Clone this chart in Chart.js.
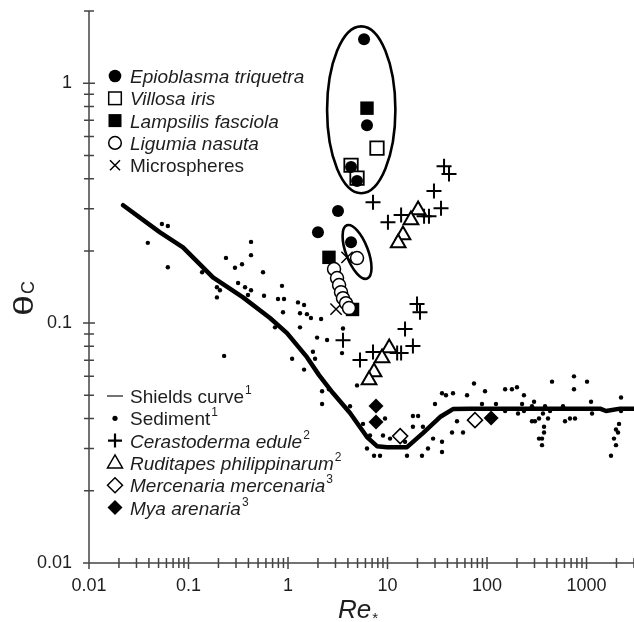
<!DOCTYPE html>
<html>
<head>
<meta charset="utf-8">
<script src="https://cdn.jsdelivr.net/npm/chart.js@4.4.1/dist/chart.umd.min.js"></script>
<style>
  body { margin: 0; background: #fff; }
  #chart { display: block; }
</style>
</head>
<body>
<canvas id="chart" width="634" height="622"></canvas>
<script>
const FONT = '"Liberation Sans", Arial, sans-serif';
const INK = "#1e1e1e";

// Shields curve (Re*, theta_c)
const shieldsRe = [0.022, 0.0517, 0.088, 0.176, 0.353, 0.659, 0.977, 1.55, 2.05, 2.83, 4.2, 6.22, 7.84, 9.88, 15.7, 22.7, 33.7, 45.5, 67.5, 1368, 1571, 2172, 3000];
const shieldsTheta = [0.31, 0.239, 0.207, 0.155, 0.128, 0.105, 0.0908, 0.0721, 0.0607, 0.0511, 0.0422, 0.0335, 0.0307, 0.0304, 0.0304, 0.0348, 0.0406, 0.0438, 0.0440, 0.0440, 0.0430, 0.0440, 0.0440];

// sediment points
const sedimentRe = [0.039, 0.054, 0.062, 0.062, 0.137, 0.238, 0.293, 0.345, 0.425, 0.425,
  0.561, 0.315, 0.37, 0.425, 0.396, 0.193, 0.207, 0.193, 0.574, 0.87,
  0.793, 0.912, 0.891, 0.74, 1.26, 1.45, 1.32, 1.55, 1.7, 2.15,
  1.32, 1.96, 2.47, 3.57, 3.49, 1.78, 1.1, 1.45, 0.228, 2.2,
  2.2, 1.87, 4.94, 2.58, 4.2, 5.67, 6.67, 9.01, 7.32, 8.41,
  9.44, 10.6, 6.22, 18, 20.3, 18, 22.7, 15, 15.7, 22.2,
  25.5, 28.7, 35.3, 35.3, 44.5, 30, 35.3, 38.7, 45.5, 63,
  74, 95.5, 57.4, 49.9, 89, 123, 152, 178, 200, 235,
  225, 297, 152, 205, 235, 283, 283, 303, 333, 365,
  383, 410, 374, 374, 357, 333, 357, 450, 430, 580,
  608, 682, 766, 748, 748, 1012, 1110, 1136, 2222, 2222,
  2122, 2073, 1977, 1888, 1977, 1762];
const sedimentTheta = [0.216, 0.259, 0.254, 0.171, 0.163, 0.187, 0.17, 0.176, 0.218, 0.192,
  0.163, 0.147, 0.141, 0.137, 0.131, 0.141, 0.137, 0.128, 0.13, 0.143,
  0.126, 0.126, 0.111, 0.096, 0.122, 0.119, 0.11, 0.109, 0.105, 0.104,
  0.096, 0.087, 0.085, 0.095, 0.075, 0.076, 0.071, 0.064, 0.073, 0.052,
  0.046, 0.071, 0.055, 0.053, 0.045, 0.038, 0.034, 0.034, 0.028, 0.028,
  0.040, 0.033, 0.030, 0.041, 0.041, 0.037, 0.037, 0.032, 0.028, 0.028,
  0.030, 0.033, 0.032, 0.029, 0.035, 0.046, 0.051, 0.050, 0.051, 0.050,
  0.056, 0.052, 0.035, 0.039, 0.046, 0.046, 0.053, 0.053, 0.054, 0.050,
  0.046, 0.047, 0.043, 0.042, 0.043, 0.045, 0.039, 0.039, 0.040, 0.042,
  0.045, 0.040, 0.037, 0.035, 0.033, 0.033, 0.031, 0.057, 0.043, 0.045,
  0.039, 0.040, 0.040, 0.060, 0.053, 0.057, 0.047, 0.042, 0.049, 0.043,
  0.038, 0.035, 0.036, 0.033, 0.031, 0.028];

// mussels and microspheres
const epioblasmaRe = [5.81, 6.22, 4.3, 4.94, 3.18, 2.0, 4.3];
const epioblasmaTheta = [1.525, 0.668, 0.447, 0.391, 0.293, 0.239, 0.2175];
const villosaRe = [7.84, 4.3, 4.94];
const villosaTheta = [0.536, 0.455, 0.402];
const lampsilisRe = [6.22, 2.58, 4.45];
const lampsilisTheta = [0.787, 0.188, 0.114];
const ligumiaRe = [4.94, 2.9, 3.11, 3.26, 3.41, 3.57, 3.83, 4.1];
const ligumiaTheta = [0.1866, 0.168, 0.154, 0.144, 0.1346, 0.127, 0.121, 0.1155];
const microRe = [3.92, 3.04];
const microTheta = [0.188, 0.1144];

// marine bivalves
const cerastodermaRe = [37.0, 41.5, 29.3, 34.5, 10.1, 7.15, 13.7, 23.3, 26.1, 19.8, 21.2, 15.0, 18.0, 3.57, 5.29, 7.15, 12.5, 13.7];
const cerastodermaTheta = [0.451, 0.418, 0.355, 0.301, 0.2635, 0.319, 0.282, 0.279, 0.279, 0.12, 0.111, 0.0944, 0.0802, 0.0849, 0.0701, 0.0757, 0.075, 0.075];
const ruditapesRe = [20.3, 17.2, 14.3, 12.8, 10.4, 8.81, 7.32, 6.52];
const ruditapesTheta = [0.296, 0.269, 0.233, 0.2155, 0.0787, 0.0715, 0.0625, 0.0579];
const mercenariaRe = [13.4, 75.7];
const mercenariaTheta = [0.0338, 0.0394];
const myaRe = [7.66, 7.66, 110];
const myaTheta = [0.0451, 0.0387, 0.0402];

// axes
const xTickLabels = [0.01, 0.1, 1, 10, 100, 1000];
const yTickLabels = [0.01, 0.1, 1];

// legend texts: [marker, text, italic, superscript]
const legendTop = [
  ["dot", "Epioblasma triquetra", true, ""],
  ["box", "Villosa iris", true, ""],
  ["block", "Lampsilis fasciola", true, ""],
  ["ring", "Ligumia nasuta", true, ""],
  ["x", "Microspheres", false, ""]
];
const legendBottom = [
  ["line", "Shields curve", false, "1"],
  ["small", "Sediment", false, "1"],
  ["plus", "Cerastoderma edule", true, "2"],
  ["tri", "Ruditapes philippinarum", true, "2"],
  ["diamond", "Mercenaria mercenaria", true, "3"],
  ["diamondFill", "Mya arenaria", true, "3"]
];

const pts = (xs, ys) => xs.map((x, i) => ({ x: x, y: ys[i] }));

function marker(ctx, kind, x, y) {
  ctx.save();
  ctx.strokeStyle = "#000";
  ctx.fillStyle = "#000";
  ctx.lineWidth = 1.5;
  ctx.beginPath();
  if (kind === "dot") { ctx.arc(x, y, 6.3, 0, Math.PI * 2); ctx.fill(); }
  else if (kind === "small") { ctx.arc(x, y, 2.6, 0, Math.PI * 2); ctx.fill(); }
  else if (kind === "ring") { ctx.arc(x, y, 6.3, 0, Math.PI * 2); ctx.stroke(); }
  else if (kind === "box") { ctx.strokeRect(x - 6.3, y - 6.3, 12.6, 12.6); }
  else if (kind === "block") { ctx.fillRect(x - 6.5, y - 6.5, 13, 13); }
  else if (kind === "x") {
    ctx.moveTo(x - 5, y - 5); ctx.lineTo(x + 5, y + 5);
    ctx.moveTo(x + 5, y - 5); ctx.lineTo(x - 5, y + 5); ctx.stroke();
  } else if (kind === "plus") {
    ctx.lineWidth = 2.2;
    ctx.moveTo(x - 7, y); ctx.lineTo(x + 7, y);
    ctx.moveTo(x, y - 7); ctx.lineTo(x, y + 7); ctx.stroke();
  } else if (kind === "tri") {
    ctx.moveTo(x, y - 8); ctx.lineTo(x + 7.5, y + 5); ctx.lineTo(x - 7.5, y + 5);
    ctx.closePath(); ctx.stroke();
  } else if (kind === "diamond" || kind === "diamondFill") {
    ctx.moveTo(x, y - 7.5); ctx.lineTo(x + 7.5, y); ctx.lineTo(x, y + 7.5); ctx.lineTo(x - 7.5, y);
    ctx.closePath();
    if (kind === "diamondFill") ctx.fill(); else ctx.stroke();
  } else if (kind === "line") {
    ctx.strokeStyle = "#444";
    ctx.moveTo(x - 8, y); ctx.lineTo(x + 8, y); ctx.stroke();
  }
  ctx.restore();
}

function drawLegend(ctx, rows, top, step) {
  rows.forEach((r, i) => {
    const y = top + i * step;
    marker(ctx, r[0], 115, y);
    ctx.fillStyle = INK;
    ctx.textBaseline = "alphabetic";
    ctx.textAlign = "left";
    ctx.font = (r[2] ? "italic " : "") + "19px " + FONT;
    ctx.fillText(r[1], 130, y + 7);
    if (r[3]) {
      const w = ctx.measureText(r[1]).width;
      ctx.font = "12px " + FONT;
      ctx.fillText(r[3], 130 + w + 1, y - 2);
    }
  });
}

const decorations = {
  id: "decorations",
  afterDatasetsDraw(chart) {
    const { ctx, scales: { x, y } } = chart;
    ctx.save();
    ctx.strokeStyle = "#000";
    ctx.lineWidth = 2.6;
    // large ellipse round the upper group
    const x0 = x.getPixelForValue(2.47), x1 = x.getPixelForValue(12.0);
    const y0 = y.getPixelForValue(1.725), y1 = y.getPixelForValue(0.348);
    ctx.beginPath();
    ctx.ellipse((x0 + x1) / 2, (y0 + y1) / 2, (x1 - x0) / 2, (y1 - y0) / 2, 0, 0, Math.PI * 2);
    ctx.stroke();
    // small tilted ellipse
    ctx.beginPath();
    ctx.ellipse(x.getPixelForValue(4.94), y.getPixelForValue(0.198), 11, 28.5, -0.365, 0, Math.PI * 2);
    ctx.stroke();
    ctx.restore();
  },
  afterDraw(chart) {
    const { ctx, chartArea: a, scales: { x, y } } = chart;
    ctx.save();
    ctx.strokeStyle = "#444";
    ctx.lineWidth = 1.5;
    ctx.beginPath();
    ctx.moveTo(a.left, a.top);
    ctx.lineTo(a.left, a.bottom);
    ctx.lineTo(a.right, a.bottom);
    for (let e = -2; e <= 3; e++) {
      for (let m = 1; m <= 9; m++) {
        const v = m * Math.pow(10, e);
        if (v > x.max * 1.0001) continue;
        const px = x.getPixelForValue(v);
        const h = m === 1 ? 6 : 5;
        ctx.moveTo(px, a.bottom - h);
        ctx.lineTo(px, a.bottom + h);
      }
    }
    for (let e = -2; e <= 0; e++) {
      for (let m = 1; m <= 9; m++) {
        const v = m * Math.pow(10, e);
        if (v > y.max * 1.0001) continue;
        const py = y.getPixelForValue(v);
        const h = m === 1 ? 6 : 5;
        ctx.moveTo(a.left - h, py);
        ctx.lineTo(a.left + h, py);
      }
    }
    ctx.stroke();

    // axis titles
    ctx.fillStyle = INK;
    ctx.textAlign = "left";
    ctx.textBaseline = "alphabetic";
    ctx.save();
    ctx.translate(33, 316);
    ctx.rotate(-Math.PI / 2);
    ctx.save();
    ctx.scale(1.35, 1);
    ctx.font = "28px " + FONT;
    ctx.fillText("\u03b8", 0, 0);
    const tw = ctx.measureText("\u03b8").width * 1.35;
    ctx.restore();
    ctx.font = "18px " + FONT;
    ctx.fillText("C", tw + 1, 1);
    ctx.restore();

    ctx.font = "italic 26px " + FONT;
    ctx.fillText("Re", 338, 618);
    const rw = ctx.measureText("Re").width;
    ctx.font = "15px " + FONT;
    ctx.fillText("*", 338 + rw + 1, 623);

    drawLegend(ctx, legendTop, 76, 22.3);
    drawLegend(ctx, legendBottom, 396, 22.3);
    ctx.restore();
  }
};

function tickText(list) {
  return function (v) {
    const hit = list.find((t) => Math.abs(v / t - 1) < 1e-6);
    return hit === undefined ? "" : String(hit);
  };
}

function noPad(s) {
  s.paddingTop = 0;
  s.paddingBottom = 0;
  s.paddingLeft = 0;
  s.paddingRight = 0;
}

new Chart(document.getElementById("chart"), {
  type: "scatter",
  data: {
    datasets: [
      { label: "Ligumia nasuta", data: pts(ligumiaRe, ligumiaTheta), pointStyle: "circle", pointRadius: 6.5, borderWidth: 1.5, borderColor: "#000", backgroundColor: "#fff" },
      { label: "Microspheres", data: pts(microRe, microTheta), pointStyle: "crossRot", pointRadius: 8, borderWidth: 1.5, borderColor: "#000" },
      { label: "Epioblasma triquetra", data: pts(epioblasmaRe, epioblasmaTheta), pointStyle: "circle", pointRadius: 6, borderWidth: 0, backgroundColor: "#000" },
      { label: "Villosa iris", data: pts(villosaRe, villosaTheta), pointStyle: "rect", pointRadius: 9.5, borderWidth: 1.8, borderColor: "#000", backgroundColor: "#fff" },
      { label: "Lampsilis fasciola", data: pts(lampsilisRe, lampsilisTheta), pointStyle: "rect", pointRadius: 9.5, borderWidth: 0, backgroundColor: "#000" },
      { label: "Ruditapes philippinarum", data: pts(ruditapesRe, ruditapesTheta), pointStyle: "triangle", pointRadius: 8.5, borderWidth: 2, borderColor: "#000", backgroundColor: "#fff" },
      { label: "Cerastoderma edule", data: pts(cerastodermaRe, cerastodermaTheta), pointStyle: "cross", pointRadius: 7.5, borderWidth: 2, borderColor: "#000" },
      { label: "Mercenaria mercenaria", data: pts(mercenariaRe, mercenariaTheta), pointStyle: "rectRot", pointRadius: 7.5, borderWidth: 1.5, borderColor: "#000", backgroundColor: "#fff" },
      { label: "Mya arenaria", data: pts(myaRe, myaTheta), pointStyle: "rectRot", pointRadius: 7.5, borderWidth: 0, backgroundColor: "#000" },
      { label: "Sediment", data: pts(sedimentRe, sedimentTheta), pointStyle: "circle", pointRadius: 2.2, borderWidth: 0, backgroundColor: "#000" },
      { label: "Shields curve", type: "line", data: pts(shieldsRe, shieldsTheta), showLine: true, pointRadius: 0, borderWidth: 4.5, borderColor: "#000", tension: 0, borderJoinStyle: "round", borderCapStyle: "round" }
    ]
  },
  options: {
    responsive: false,
    animation: false,
    events: [],
    layout: { autoPadding: false, padding: { top: 11, right: 0, left: 0, bottom: 0 } },
    plugins: { legend: { display: false }, tooltip: { enabled: false } },
    scales: {
      x: {
        type: "logarithmic",
        min: 0.01,
        max: 3000,
        grid: { display: false, drawTicks: false },
        border: { display: false },
        afterFit: (s) => { s.height = 59; noPad(s); },
        ticks: { autoSkip: false, maxRotation: 0, padding: 12, color: INK, font: { family: FONT, size: 18 }, callback: tickText(xTickLabels) }
      },
      y: {
        type: "logarithmic",
        min: 0.01,
        max: 2,
        grid: { display: false, drawTicks: false },
        border: { display: false },
        afterFit: (s) => { s.width = 89; noPad(s); },
        ticks: { autoSkip: false, padding: 17, color: INK, font: { family: FONT, size: 18 }, callback: tickText(yTickLabels) }
      }
    }
  },
  plugins: [decorations]
});
</script>
</body>
</html>
